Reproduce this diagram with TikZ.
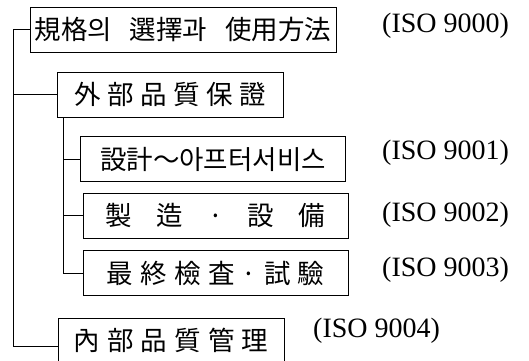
\documentclass[tikz,border=0pt]{standalone}
\usepackage{fontspec}
\setmainfont{Liberation Serif}
\newfontfamily\kofont{Noto Sans CJK KR}
\usetikzlibrary{positioning}
\tikzset{
box/.style={draw, line width=0.8pt, minimum height=45pt, inner sep=0pt, font=\kofont\fontsize{26.5}{26.5}\selectfont}, % the framed titles
iso/.style={anchor=west, inner sep=0pt, font=\fontsize{28}{28}\selectfont}, % standard numbers on the right
link/.style={line width=0.8pt}, % the tree lines on the left
}

\begin{document}
\begin{tikzpicture}[x=1pt, y=-1pt]
    \clip (0,0) rectangle (529,360);
    \node[box, minimum width=306pt] (choice) at (183,29.5) {\makebox[297pt][s]{規格의 選擇과 使用方法}};
    \node[box, minimum width=226pt] (external) at (170,94.5) {\makebox[192pt][s]{外 部 品 質 保 證}};
    \node[box, minimum width=265pt] (design) at (213,159) {設計～아프터서비스};
    \node[box, minimum width=265pt] (production) at (215.5,215.5) {\makebox[220pt][s]{製 造 · 設 備}};
    \node[box, minimum width=265pt] (inspection) at (215.5,273) {\makebox[218pt][s]{最 終 檢 査 · 試 驗}};
    \node[box, minimum width=226pt] (internal) at (171,340.5) {\makebox[195pt][s]{內 部 品 質 管 理}};
    \node[iso] (iso0) at (382,26) {(ISO 9000)};
    \node[iso] (iso1) at (382,152.5) {(ISO 9001)};
    \node[iso] (iso2) at (382,214.5) {(ISO 9002)};
    \node[iso] (iso3) at (382,270) {(ISO 9003)};
    \node[iso] (iso4) at (313,331) {(ISO 9004)};
    \coordinate (outer) at ([xshift=-16.7pt]choice.west);
    \coordinate (inner) at ([xshift=7pt]external.south west);
    \draw[link]
    (choice.west) -- (outer) |- ([yshift=-6pt]internal.west)
    (outer) |- (external.west)
    (inner) |- (design.west)
    (inner) |- (production.west)
    (inner) |- (inspection.west);
  \end{tikzpicture}
\end{document}
